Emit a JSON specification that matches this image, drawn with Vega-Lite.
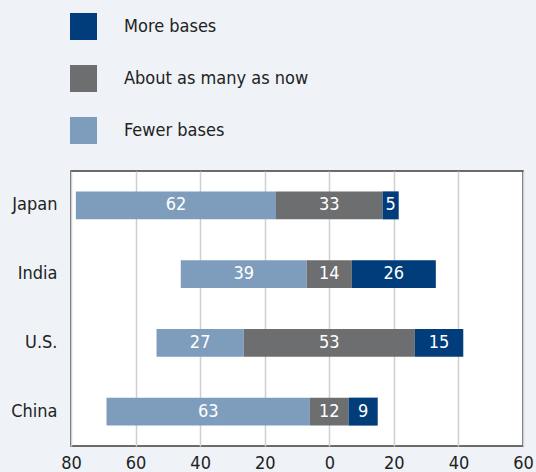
{
  "$schema": "https://vega.github.io/schema/vega-lite/v6.json",
  "width": 452,
  "height": 275,
  "autosize": "none",
  "padding": {"left": 71, "top": 171, "right": 13, "bottom": 26},
  "background": "#eff3f7",
  "config": {
    "font": "DejaVu Sans Condensed, sans-serif",
    "view": {"fill": "white", "stroke": "#3c3c3c", "strokeWidth": 1.5}
  },
  "data": {
    "values": [
      {"country": "Japan", "response": "Fewer bases", "rank": 1, "value": 62},
      {"country": "Japan", "response": "About as many as now", "rank": 2, "value": 33},
      {"country": "Japan", "response": "More bases", "rank": 3, "value": 5},
      {"country": "India", "response": "Fewer bases", "rank": 1, "value": 39},
      {"country": "India", "response": "About as many as now", "rank": 2, "value": 14},
      {"country": "India", "response": "More bases", "rank": 3, "value": 26},
      {"country": "U.S.", "response": "Fewer bases", "rank": 1, "value": 27},
      {"country": "U.S.", "response": "About as many as now", "rank": 2, "value": 53},
      {"country": "U.S.", "response": "More bases", "rank": 3, "value": 15},
      {"country": "China", "response": "Fewer bases", "rank": 1, "value": 63},
      {"country": "China", "response": "About as many as now", "rank": 2, "value": 12},
      {"country": "China", "response": "More bases", "rank": 3, "value": 9}
    ]
  },
  "transform": [
    {"stack": "value", "groupby": ["country"], "sort": [{"field": "rank", "order": "ascending"}], "as": ["s0", "s1"]},
    {"calculate": "datum.rank == 1 ? datum.value : (datum.rank == 2 ? datum.value / 2 : 0)", "as": "leftPart"},
    {"joinaggregate": [{"op": "sum", "field": "leftPart", "as": "shift"}], "groupby": ["country"]},
    {"calculate": "datum.s0 - datum.shift", "as": "x0"},
    {"calculate": "datum.s1 - datum.shift", "as": "x1"},
    {"calculate": "(datum.x0 + datum.x1) / 2", "as": "xm"}
  ],
  "encoding": {
    "y": {
      "field": "country",
      "type": "nominal",
      "sort": ["Japan", "India", "U.S.", "China"],
      "scale": {"paddingInner": 0.593, "paddingOuter": 0.2965},
      "axis": {
        "title": null,
        "domain": false,
        "ticks": false,
        "labelFontSize": 18,
        "labelColor": "#222222",
        "labelPadding": 14
      }
    }
  },
  "layer": [
    {
      "mark": {"type": "bar"},
      "encoding": {
        "x": {
          "field": "x0",
          "type": "quantitative",
          "scale": {"domain": [-80, 60], "nice": false, "zero": false},
          "axis": {
            "title": null,
            "values": [-80, -60, -40, -20, 0, 20, 40, 60],
            "labelExpr": "abs(datum.value)",
            "domain": false,
            "ticks": false,
            "grid": true,
            "gridColor": "#cfcfcf",
            "gridWidth": 1.5,
            "labelFontSize": 18,
            "labelColor": "#222222",
            "labelPadding": 8,
            "labelFlush": false,
            "labelOverlap": false
          }
        },
        "x2": {"field": "x1"},
        "color": {
          "field": "response",
          "type": "nominal",
          "scale": {
            "domain": ["More bases", "About as many as now", "Fewer bases"],
            "range": ["#003d7a", "#6d6e70", "#7e9dbd"]
          },
          "legend": {
            "title": null,
            "orient": "none",
            "legendX": -1,
            "legendY": -158,
            "symbolType": "square",
            "symbolSize": 729,
            "symbolStrokeWidth": 0,
            "symbolOpacity": 1,
            "labelFontSize": 18,
            "labelColor": "#222222",
            "labelLimit": 0,
            "labelOffset": 27,
            "rowPadding": 25,
            "padding": 0
          }
        }
      }
    },
    {
      "mark": {"type": "text", "color": "white", "fontSize": 18, "align": "center", "baseline": "middle"},
      "encoding": {
        "x": {"field": "xm", "type": "quantitative"},
        "text": {"field": "value", "type": "quantitative"}
      }
    }
  ]
}
